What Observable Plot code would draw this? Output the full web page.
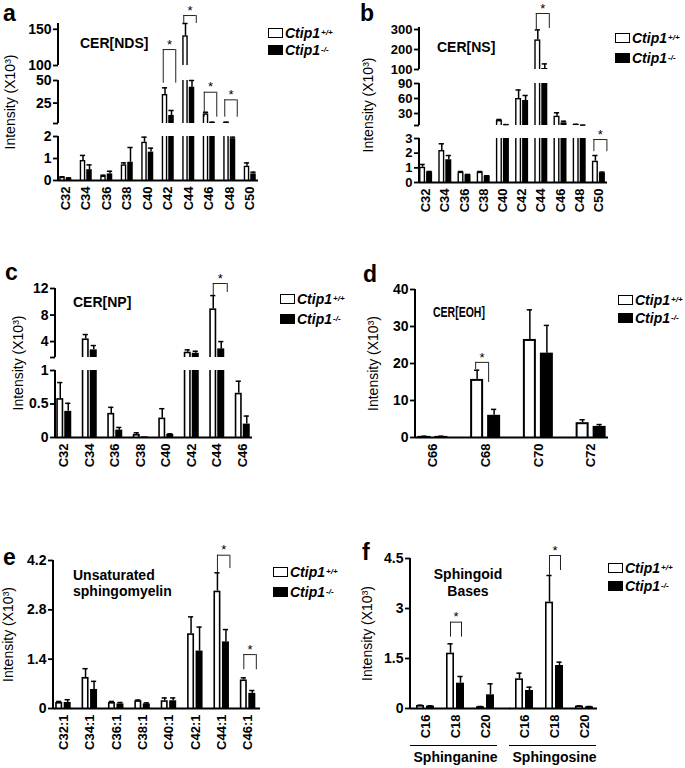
<!DOCTYPE html>
<html><head><meta charset="utf-8">
<script src="https://cdn.jsdelivr.net/npm/d3@7"></script>
<script src="https://cdn.jsdelivr.net/npm/@observablehq/plot@0.6"></script>
<style>
body{margin:0;background:#fff;}
#fig{position:relative;width:685px;height:768px;overflow:hidden;font-family:"Liberation Sans",Arial,Helvetica,sans-serif;color:#000;}
#fig svg{position:absolute;left:0;top:0;background:transparent;}
.lt{position:absolute;font-weight:bold;font-size:23px;line-height:20px;}
.ttl{position:absolute;font-weight:bold;font-size:14px;line-height:16px;white-space:nowrap;}
.leg{position:absolute;display:flex;align-items:center;height:14px;font-size:14px;font-weight:bold;font-style:italic;white-space:nowrap;line-height:14px;}
.sw{display:inline-block;box-sizing:border-box;width:15px;height:10px;border:1.6px solid #000;margin-right:2px;}
.leg sup{font-size:8px;line-height:8px;vertical-align:5px;margin-left:1px;}
</style></head>
<body><div id="fig"></div>
<script>
const FONT = '"Liberation Sans", Arial, Helvetica, sans-serif';
const Y_LABEL = "Intensity (X10\u00B3)";

// ---------------- DATA ----------------
// a: CER[NDS]
const catsA = ["C32","C34","C36","C38","C40","C42","C44","C46","C48","C50"];
const wtA    = [0.15, 0.91, 0.2, 0.71, 1.74, 34.5, 141, 13, 3.6, 0.65];
const wtErrA = [0.02, 0.23, 0.04, 0.09, 0.23, 7.4, 17, 1.8, 0.3, 0.15];
const koA    = [0.1, 0.49, 0.3, 0.83, 1.29, 11.3, 42.6, 3.5, 1.9, 0.3];
const koErrA = [0.02, 0.22, 0.12, 0.67, 0.18, 5.5, 7.4, 0.4, 0.07, 0.08];
const ticksA = [0, 1, 2, 2.4, 25, 50, 100, 150];
const tickLabelsA = ["0","1","2","","25","50","100","150"];
const bracketsA = [
  {cat:"C42", top:122, legL:47, legR:47},
  {cat:"C44", top:169, legL:158, legR:158},
  {cat:"C46", top:37, legL:9.4, legR:9.4},
  {cat:"C48", top:28.6, legL:9.4, legR:9.4}
];

// b: CER[NS]
const catsB = ["C32","C34","C36","C38","C40","C42","C44","C46","C48","C50"];
const wtB    = [1.04, 2.18, 0.7, 0.7, 16, 60, 248, 24.6, 8, 1.45];
const wtErrB = [0.19, 0.46, 0.05, 0.05, 2, 17, 50, 6.8, 0.4, 0.39];
const koB    = [0.7, 1.55, 0.52, 0.43, 7.4, 56, 105, 11.4, 6.5, 0.66];
const koErrB = [0.05, 0.29, 0.03, 0.03, 0.4, 10, 23, 3.2, 0.2, 0.05];
const ticksB = [0, 1, 2, 3, 6, 30, 60, 90, 100, 200, 300];
const tickLabelsB = ["0","1","2","3","","30","60","90","100","200","300"];
const bracketsB = [
  {cat:"C44", top:380, legL:300, legR:305},
  {cat:"C50", top:2.93, legL:2.1, legR:2.1}
];

// c: CER[NP]
const catsC = ["C32","C34","C36","C38","C40","C42","C44","C46"];
const wtC    = [0.58, 4.4, 0.36, 0.045, 0.29, 2.4, 8.93, 0.66];
const wtErrC = [0.24, 0.66, 0.09, 0.025, 0.14, 0.35, 2.0, 0.18];
const koC    = [0.39, 2.75, 0.11, 0.01, 0.045, 2.24, 2.9, 0.2];
const koErrC = [0.12, 0.65, 0.04, 0, 0.01, 0.3, 1.1, 0.12];
const ticksC = [0, 0.5, 1, 1.6, 4, 8, 12];
const tickLabelsC = ["0","0.5","1","","4","8","12"];
const bracketsC = [{cat:"C44", top:12.75, legL:10.9, legR:11.4}];

// d: CER[EOH]
const catsD = ["C66","C68","C70","C72"];
const wtD    = [0.3, 15.7, 26.5, 4.0];
const wtErrD = [0.05, 2.5, 8, 0.8];
const koD    = [0.3, 6, 22.8, 3.0];
const koErrD = [0.05, 1.6, 7.5, 0.5];
const ticksD = [0, 10, 20, 30, 40];
const tickLabelsD = ["0","10","20","30","40"];
const bracketsD = [{cat:"C68", top:20.3, legL:18.4, legR:14.9}];

// e: Unsaturated sphingomyelin
const catsE = ["C32:1","C34:1","C36:1","C38:1","C40:1","C42:1","C44:1","C46:1"];
const wtE    = [0.17, 0.88, 0.17, 0.22, 0.22, 2.12, 3.33, 0.81];
const wtErrE = [0.03, 0.25, 0.03, 0.02, 0.08, 0.48, 0.52, 0.06];
const koE    = [0.17, 0.54, 0.13, 0.13, 0.22, 1.63, 1.89, 0.43];
const koErrE = [0.08, 0.23, 0.04, 0.03, 0.08, 0.68, 0.35, 0.08];
const ticksE = [0, 1.4, 2.8, 4.2];
const tickLabelsE = ["0","1.4","2.8","4.2"];
const bracketsE = [
  {cat:"C44:1", top:4.35, legL:3.85, legR:3.97},
  {cat:"C46:1", top:1.53, legL:1.1, legR:1.1}
];

// f: Sphingoid bases
const groupsF = ["Sphinganine","Sphinganine","Sphinganine","Sphingosine","Sphingosine","Sphingosine"];
const catsF   = ["C16","C18","C20","C16","C18","C20"];
const wtF    = [0.09, 1.66, 0.05, 0.89, 3.19, 0.07];
const wtErrF = [0.01, 0.28, 0.01, 0.17, 0.8, 0.01];
const koF    = [0.07, 0.76, 0.41, 0.54, 1.29, 0.05];
const koErrF = [0.01, 0.2, 0.33, 0.1, 0.1, 0.01];
const ticksF = [0, 1.5, 3, 4.5];
const tickLabelsF = ["0","1.5","3","4.5"];
const bracketsF = [
  {grp:"Sphinganine", cat:"C18", top:2.59, legL:2.14, legR:2.14},
  {grp:"Sphingosine", cat:"C18", top:4.59, legL:3.99, legR:4.14}
];

// ---------------- LAYOUT (pixels, styles) ----------------
const layouts = {
  a: {L:58, R:258, T:23, B:180, xr:[55,260], segs:[[0,2],[2.4,50],[100,158]], yr:[180,136,123,80,65,23],
      wt:[-6,-0.5], ko:[0.5,6], brk:[-5,7.5], lab:53, sw:1.4, fs:14},
  b: {L:419, R:607, T:27, B:182, xr:[416,608], segs:[[0,3],[6,90],[100,310]], yr:[182,138,125,83,69,27],
      wt:[-6.5,-0.5], ko:[0.5,6.5], brk:[-5,8], lab:56, sw:1.4, fs:13},
  c: {L:55, R:252, T:288, B:437, xr:[51,255], segs:[[0,1],[1.6,12]], yr:[437,370,357,288],
      wt:[-7.5,-0.5], ko:[0.5,7.5], brk:[-4,10], lab:42, sw:1.6, fs:14},
  d: {L:415, R:608, T:289, B:437, xr:[406,617], segs:[[0,40]], yr:[437,289],
      wt:[-15,-2], ko:[2,15], brk:[-10,3], lab:47, sw:2, fs:14},
  e: {L:53, R:260, T:560, B:708, xr:[50,261], segs:[[0,4.2]], yr:[708,560],
      wt:[-8,-1], ko:[0.5,7.5], brk:[-4.5,8], lab:50, sw:1.6, fs:14},
  f: {L:410, R:599, T:558, B:708, facet:true, fpad:0.0909, segs:[[0,4.5]], yr:[708,558],
      wt:[-9,-1], ko:[1,9], brk:[-5,6], lab:48, sw:1.6, fs:14}
};

function build(D, Lo) {
  const facet = !!Lo.facet;
  const groupsU = facet ? Array.from(new Set(D.groups)) : null;
  const chains = facet ? Array.from(new Set(D.cats)) : D.cats;
  let fw, bw, fgap = 0;
  if (facet) {
    const step = (Lo.R - Lo.L) / (groupsU.length - Lo.fpad);
    fw = step * (1 - Lo.fpad);
    fgap = step - fw;
    bw = fw / chains.length;
  } else {
    fw = Lo.R - Lo.L;
    bw = (Lo.xr[1] - Lo.xr[0]) / D.cats.length;
  }
  const fxo = facet ? {fx: "grp"} : {};
  const inset = ([o1, o2]) => ({insetLeft: bw / 2 + o1, insetRight: bw / 2 - o2});
  const cen = g => (Lo[g][0] + Lo[g][1]) / 2;
  const capHalf = 2.6;
  const capInset = g => ({insetLeft: bw / 2 + cen(g) - capHalf, insetRight: bw / 2 - cen(g) - capHalf});

  const rows = [];
  D.cats.forEach((c, i) => {
    const grp = facet ? D.groups[i] : null;
    rows.push({cat: c, grp, g: "wt", v: D.wt[i], e: D.wtErr[i]});
    rows.push({cat: c, grp, g: "ko", v: D.ko[i], e: D.koErr[i]});
  });
  const pcs = [];
  for (const r of rows) Lo.segs.forEach(([lo, hi]) => {
    if (r.v > lo) pcs.push({...r, y1: lo, y2: Math.min(r.v, hi), top: r.v <= hi});
  });
  const wtP = pcs.filter(d => d.g === "wt"), koP = pcs.filter(d => d.g === "ko");
  const wI = inset(Lo.wt), sw = Lo.sw;
  const whiteIn = {insetLeft: wI.insetLeft + sw, insetRight: wI.insetRight + sw};

  const marks = [
    Plot.barY(wtP, {x: "cat", y1: "y1", y2: "y2", fill: "black", ...wI, ...fxo}),
    Plot.barY(wtP.filter(d => d.top), {x: "cat", y1: "y1", y2: "y2", fill: "white", ...whiteIn, insetTop: sw, ...fxo}),
    Plot.barY(wtP.filter(d => !d.top), {x: "cat", y1: "y1", y2: "y2", fill: "white", ...whiteIn, ...fxo}),
    Plot.barY(koP, {x: "cat", y1: "y1", y2: "y2", fill: "black", ...inset(Lo.ko), ...fxo})
  ];
  for (const g of ["wt", "ko"]) {
    const er = rows.filter(r => r.g === g && r.e > 0);
    marks.push(Plot.ruleX(er, {x: "cat", y1: "v", y2: d => d.v + d.e, dx: cen(g), strokeWidth: 1.5, ...fxo}));
    marks.push(Plot.tickY(er, {x: "cat", y: d => d.v + d.e, ...capInset(g), strokeWidth: 1.5, ...fxo}));
  }
  const [bl, br] = Lo.brk;
  const BR = D.brackets;
  marks.push(
    Plot.ruleX(BR, {x: "cat", y1: "legL", y2: "top", dx: bl, stroke: "#222", strokeWidth: 1, ...fxo}),
    Plot.ruleX(BR, {x: "cat", y1: "legR", y2: "top", dx: br, stroke: "#222", strokeWidth: 1, ...fxo}),
    Plot.tickY(BR, {x: "cat", y: "top", insetLeft: bw / 2 + bl, insetRight: bw / 2 - br, stroke: "#222", strokeWidth: 1, ...fxo}),
    Plot.text(BR, {x: "cat", y: "top", text: () => "*", dx: (bl + br) / 2, dy: -5, fontSize: 13, lineAnchor: "middle", ...fxo})
  );

  // y-axis line, one piece per axis segment
  const segData = Lo.segs.map(([lo, hi]) => ({lo, hi, grp: facet ? groupsU[0] : null}));
  marks.push(Plot.rect(segData, {y1: "lo", y2: "hi", fill: "black", insetLeft: -1, insetRight: fw - 1, ...fxo}));
  // x-axis line
  if (facet) {
    marks.push(
      Plot.ruleY([{grp: groupsU[0]}], {fx: "grp", y: () => 0, insetRight: -fgap - 0.5, strokeWidth: 2}),
      Plot.ruleY([{grp: groupsU[1]}], {fx: "grp", y: () => 0, insetRight: 2, strokeWidth: 2})
    );
  } else {
    marks.push(Plot.ruleY([0], {strokeWidth: 2}));
  }

  const labMap = new Map(D.ticks.map((t, i) => [t, D.tickLabels[i]]));
  marks.push(
    Plot.axisY({ticks: D.ticks, tickFormat: t => labMap.get(t), tickSize: 5, tickPadding: 2, strokeWidth: 1.8,
                fontSize: Lo.fs, fontWeight: "bold", label: null}),
    Plot.axisX({tickRotate: -90, tickSize: 0, tickPadding: 6, fontSize: 13, fontWeight: "bold", label: null}),
    Plot.text([Y_LABEL], {frameAnchor: "left", rotate: -90, dx: -Lo.lab, lineAnchor: "top", textAnchor: "middle", fontSize: 14,
                          ...(facet ? {fx: () => groupsU[0]} : {})})
  );
  if (facet) {
    marks.push(
      Plot.ruleY(groupsU.map(g => ({grp: g})), {fx: "grp", y: () => 0, dy: 37, insetRight: 3, strokeWidth: 1}),
      Plot.axisFx({anchor: "bottom", tickSize: 0, tickPadding: 44, fontSize: 14, fontWeight: "bold", label: null})
    );
  }

  const opts = {
    width: 685, height: 768,
    marginLeft: Lo.L, marginRight: 685 - Lo.R, marginTop: Lo.T, marginBottom: 768 - Lo.B,
    y: {type: "linear", domain: Lo.segs.flat(), range: Lo.yr},
    style: {background: "transparent", fontFamily: FONT, overflow: "visible", position: "absolute", left: "0px", top: "0px"},
    marks
  };
  if (facet) {
    opts.x = {domain: chains, padding: 0, round: false};
    opts.fx = {domain: groupsU, paddingInner: Lo.fpad, paddingOuter: 0, round: false};
  } else {
    opts.x = {domain: D.cats, range: Lo.xr, padding: 0, round: false};
  }
  return Plot.plot(opts);
}

const fig = document.getElementById("fig");
const panels = [
  [{cats: catsA, wt: wtA, wtErr: wtErrA, ko: koA, koErr: koErrA, ticks: ticksA, tickLabels: tickLabelsA, brackets: bracketsA}, layouts.a],
  [{cats: catsB, wt: wtB, wtErr: wtErrB, ko: koB, koErr: koErrB, ticks: ticksB, tickLabels: tickLabelsB, brackets: bracketsB}, layouts.b],
  [{cats: catsC, wt: wtC, wtErr: wtErrC, ko: koC, koErr: koErrC, ticks: ticksC, tickLabels: tickLabelsC, brackets: bracketsC}, layouts.c],
  [{cats: catsD, wt: wtD, wtErr: wtErrD, ko: koD, koErr: koErrD, ticks: ticksD, tickLabels: tickLabelsD, brackets: bracketsD}, layouts.d],
  [{cats: catsE, wt: wtE, wtErr: wtErrE, ko: koE, koErr: koErrE, ticks: ticksE, tickLabels: tickLabelsE, brackets: bracketsE}, layouts.e],
  [{cats: catsF, groups: groupsF, wt: wtF, wtErr: wtErrF, ko: koF, koErr: koErrF, ticks: ticksF, tickLabels: tickLabelsF, brackets: bracketsF}, layouts.f]
];
for (const [D, Lo] of panels) {
  try { fig.appendChild(build(D, Lo)); } catch (e) { console.error(e); }
}

// ---------------- HTML annotations ----------------
function addDiv(cls, html, style) {
  const d = document.createElement("div");
  d.className = cls; d.innerHTML = html;
  Object.assign(d.style, style);
  fig.appendChild(d);
}
const letters = [["a",3,3],["b",360,3],["c",5,262],["d",363,264],["e",3,547],["f",362,542]];
for (const [t, x, y] of letters) addDiv("lt", t, {left: x + "px", top: y + "px"});

addDiv("ttl", "CER[NDS]", {left: "80px", top: "35px"});
addDiv("ttl", "CER[NS]", {left: "437px", top: "39px"});
addDiv("ttl", "CER[NP]", {left: "73px", top: "294px"});
addDiv("ttl", "CER[EOH]", {left: "433px", top: "304px", transform: "scaleX(0.75)", transformOrigin: "left top"});
addDiv("ttl", "Unsaturated<br>sphingomyelin", {left: "73px", top: "567px"});
addDiv("ttl", "Sphingoid<br>Bases", {left: "418px", top: "566px", width: "100px", textAlign: "center", lineHeight: "17px"});

const legends = [[268,28,45],[615,33,53],[280,294,314],[618,295,313],[273,567,587],[608,563,581]];
for (const [x, y1, y2] of legends) {
  addDiv("leg", '<span class="sw" style="background:#fff"></span>Ctip1<sup>+/+</sup>', {left: x + "px", top: (y1 - 2) + "px"});
  addDiv("leg", '<span class="sw" style="background:#000"></span>Ctip1<sup>-/-</sup>', {left: x + "px", top: (y2 - 2) + "px"});
}
</script>
</body></html>
